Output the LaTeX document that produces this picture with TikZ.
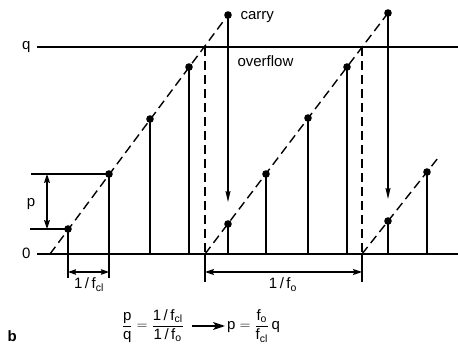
\documentclass[tikz,border=0pt]{standalone}
\usepackage{amsmath}
\usepackage{fontspec}
\setmainfont{Liberation Sans}
\usetikzlibrary{arrows.meta,calc}

\begin{document}
\begin{tikzpicture}[
  x=1pt, y=1pt,
  >={Stealth[length=9pt,width=6pt,inset=1.5pt]},
  line join=round,
  every node/.style={font=\fontsize{15}{17}\selectfont},
  stem/.style={line width=2.1pt},
  ramp/.style={dash pattern=on 9pt off 5pt, line width=1.4pt},
  guide/.style={line width=1.2pt},
  level/.style={line width=1.6pt}
]
  \useasboundingbox (0,-91) rectangle (458,254);

  \coordinate (zero) at (37,0);
  \coordinate (qlev) at (37,207);
  \coordinate (zend) at (458,0);
  \coordinate (qend) at (458,207);

  % ramp starts and ends
  \coordinate (r1) at (50,0);
  \coordinate (r2) at (205,0);
  \coordinate (r3) at (362,0);
  \coordinate (r3e) at (438,96);
  \coordinate (c1) at (228,239);
  \coordinate (c2) at (388,241);
  \coordinate (o1) at (205,207);
  \coordinate (o2) at (362,207);

  % Levels 0 and q
  \draw[level] (zero) -- (zend);
  \draw[level] (qlev) -- (qend);
  \node[anchor=base east] (lzero) at (34,-5) {0};
  \node[anchor=base east] (lq) at (34,204) {q};

  % Phase ramps
  \draw[ramp] (r1) -- (c1);
  \draw[ramp] (r2) -- (c2);
  \draw[ramp] (r3) -- (r3e);
  \draw[ramp, line width=1.1pt] (o1) -- (r2);
  \draw[ramp, line width=1.1pt] (o2) -- (r3);

  % Samples
  \foreach \n/\x/\y in {s1/68/25, s2/109/80, s3/150/135, s4/189/187,
                        w1/228/30, s5/266/80, s6/308/136, s7/347/187,
                        w2/388/33, s8/427/82}{
    \coordinate (\n) at (\x,\y);
    \draw[stem] (\n |- zero) -- (\n);
    \fill (\n) circle (3.8pt);
  }

  % Carry
  \foreach \c/\w in {c1/w1, c2/w2}{
    \draw[guide, -{Stealth[length=11pt,width=5pt,inset=1.5pt]}] (\c) -- ($(\w)+(0,22)$);
    \fill (\c) circle (3.8pt);
  }
  \node[anchor=base west] (lcarry) at (237,234) {carry};
  \node[anchor=base west] (lover) at (234,187) {overflow};

  % Step p
  \coordinate (p1) at (31,80);
  \coordinate (p0) at (30,25);
  \draw[guide] (p1) -- (s2);
  \draw[guide] (p0) -- (s1);
  \draw[guide, <->] (47,80) -- (47,25);
  \node[anchor=base] (lp) at (31,47) {p};

  % Period 1/fcl
  \draw[guide] (s1 |- zero) -- ++(0,-24) coordinate (t1);
  \draw[guide] (s2 |- zero) -- ++(0,-24) coordinate (t2);
  \draw[guide, <->, >={Stealth[length=8pt,width=5.5pt,inset=1pt]}]
    ($(t1)+(0,6)$) -- ($(t2)+(0,6)$);
  \node[anchor=base] (lfcl) at (89,-35) {1\,/\,f$_\text{cl}$};

  % Period 1/fo
  \draw[guide] (r2) -- ++(0,-28) coordinate (t3);
  \draw[guide] (r3) -- ++(0,-28) coordinate (t4);
  \draw[guide, <->] ($(t3)+(0,10)$) -- ($(t4)+(0,10)$);
  \node[anchor=base] (lfo) at (283,-35) {1\,/\,f$_\text{o}$};

  % Relation
  \node[anchor=base west, font=\fontsize{15}{17}\bfseries] (lb) at (4,-88) {b};
  \node[anchor=east, inner sep=0pt] (eql) at (184,-72)
    {$\dfrac{\text{p}}{\text{q}} = \dfrac{\text{1\,/\,f}_\text{cl}}{\text{1\,/\,f}_\text{o}}$};
  \node[anchor=west, inner sep=0pt] (eqr) at (227,-72)
    {$\text{p} = \dfrac{\text{f}_\text{o}}{\text{f}_\text{cl}}\,\text{q}$};
  \draw[line width=1.5pt, -{Stealth[length=12pt,width=8pt,inset=3pt]}]
    ([xshift=8pt]eql.east) -- ([xshift=-2pt]eqr.west);
\end{tikzpicture}
\end{document}
